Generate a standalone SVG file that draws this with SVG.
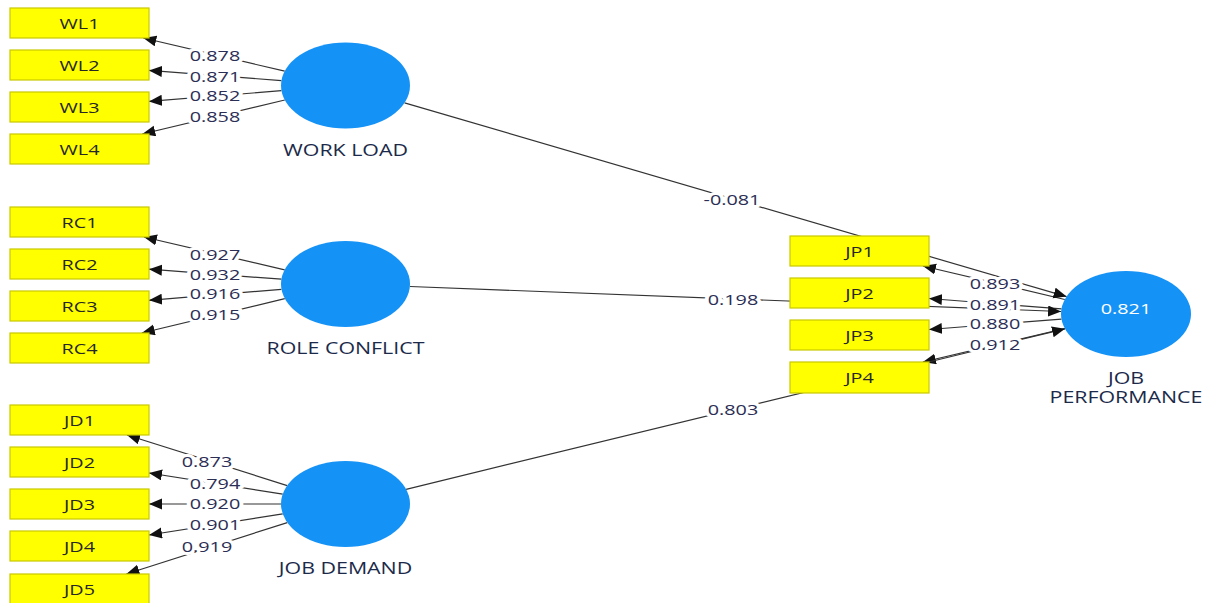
<svg xmlns="http://www.w3.org/2000/svg" width="1210" height="603" viewBox="0 0 1210 603">
  <defs>
    <marker id="arr" markerUnits="userSpaceOnUse" markerWidth="14" markerHeight="12" refX="13" refY="5.5" orient="auto">
      <path d="M0,0 L13,5.5 L0,11 z" fill="#111"/>
    </marker>
    <style>
      .ln { stroke: #333; stroke-width: 1.2; fill: none; }
      .ld { marker-end: url(#arr); }
      .ind rect { fill: #ffff00; stroke: #c9c900; stroke-width: 1.2; }
      .lv ellipse { fill: #1592f6; }
      text { font-family: "Open Sans", "Noto Sans", "DejaVu Sans", sans-serif; font-size: 15px; text-anchor: middle; }
      .ind text { fill: #262626; }
      .lv text.name { fill: #1b2a4a; font-size: 15.5px; }
      .lv text.r2 { fill: #ffffff; }
      .val { fill: #2b2e55; stroke: #ffffff; stroke-width: 6; stroke-linejoin: round; paint-order: stroke; }
    </style>
  </defs>
  <rect width="1210" height="603" fill="#ffffff"/>

  <!-- connectors: outer loadings and structural paths -->
  <g id="connectors">
    <!-- WORK LOAD loadings -->
    <line class="ln ld" x1="284.7" y1="71.2" x2="143.3" y2="38"/>
    <line class="ln ld" x1="281.4" y1="80.6" x2="149" y2="70.4"/>
    <line class="ln ld" x1="281.4" y1="90.7" x2="149" y2="101.4"/>
    <line class="ln ld" x1="284.8" y1="100" x2="142.3" y2="134"/>
    <!-- ROLE CONFLICT loadings -->
    <line class="ln ld" x1="284.7" y1="269.8" x2="143.9" y2="237"/>
    <line class="ln ld" x1="281.4" y1="279.2" x2="149" y2="269.2"/>
    <line class="ln ld" x1="281.4" y1="289.3" x2="149" y2="300.3"/>
    <line class="ln ld" x1="284.8" y1="298.6" x2="141.8" y2="333"/>
    <!-- JOB DEMAND loadings -->
    <line class="ln ld" x1="287.2" y1="485.6" x2="127" y2="435"/>
    <line class="ln ld" x1="282.7" y1="494.1" x2="149" y2="473"/>
    <line class="ln ld" x1="281" y1="504" x2="149" y2="504"/>
    <line class="ln ld" x1="282.7" y1="513.9" x2="149" y2="535"/>
    <line class="ln ld" x1="287.3" y1="522.6" x2="126.4" y2="574"/>
    <!-- JOB PERFORMANCE loadings -->
    <line class="ln ld" x1="1064.8" y1="299.5" x2="922.9" y2="266"/>
    <line class="ln ld" x1="1061.5" y1="308.9" x2="929" y2="298.5"/>
    <line class="ln ld" x1="1061.5" y1="319.1" x2="929" y2="329.5"/>
    <line class="ln ld" x1="1064.8" y1="328.5" x2="922.9" y2="362"/>
    <!-- structural paths -->
    <line class="ln ld" x1="404.6" y1="102.8" x2="1066.6" y2="296.6"/>
    <line class="ln ld" x1="409.9" y1="286.5" x2="1061.1" y2="311.5"/>
    <line class="ln ld" x1="406.1" y1="489.3" x2="1065" y2="328.8"/>

    <!-- coefficients -->
    <g class="val">
      <text transform="translate(215,61) scale(1.32,1)">0.878</text>
      <text transform="translate(215,82) scale(1.32,1)">0.871</text>
      <text transform="translate(215,100.5) scale(1.32,1)">0.852</text>
      <text transform="translate(215,121.5) scale(1.32,1)">0.858</text>

      <text transform="translate(215,259.5) scale(1.32,1)">0.927</text>
      <text transform="translate(215,280) scale(1.32,1)">0.932</text>
      <text transform="translate(215,298.5) scale(1.32,1)">0.916</text>
      <text transform="translate(215,319.5) scale(1.32,1)">0.915</text>

      <text transform="translate(207,467) scale(1.32,1)">0.873</text>
      <text transform="translate(215,488.5) scale(1.32,1)">0.794</text>
      <text transform="translate(215,508.5) scale(1.32,1)">0.920</text>
      <text transform="translate(215,529.5) scale(1.32,1)">0.901</text>
      <text transform="translate(207,552) scale(1.32,1)">0.919</text>

      <text transform="translate(995,288.5) scale(1.32,1)">0.893</text>
      <text transform="translate(995,310) scale(1.32,1)">0.891</text>
      <text transform="translate(995,328.5) scale(1.32,1)">0.880</text>
      <text transform="translate(995,349.5) scale(1.32,1)">0.912</text>

      <text transform="translate(732,205) scale(1.32,1)">-0.081</text>
      <text transform="translate(733,304.5) scale(1.32,1)">0.198</text>
      <text transform="translate(733,414.5) scale(1.32,1)">0.803</text>
    </g>
  </g>

  <!-- latent variables -->
  <g id="work-load" class="lv">
    <ellipse cx="345.5" cy="85.5" rx="64.5" ry="43"/>
    <text class="name" transform="translate(345.5,155.5) scale(1.38,1)">WORK LOAD</text>
  </g>
  <g id="role-conflict" class="lv">
    <ellipse cx="345.5" cy="284" rx="64.5" ry="43"/>
    <text class="name" transform="translate(345.5,353.5) scale(1.38,1)">ROLE CONFLICT</text>
  </g>
  <g id="job-demand" class="lv">
    <ellipse cx="345.5" cy="504" rx="64.5" ry="43"/>
    <text class="name" transform="translate(345.5,573.5) scale(1.38,1)">JOB DEMAND</text>
  </g>
  <g id="job-performance" class="lv">
    <ellipse cx="1126" cy="314" rx="65" ry="43"/>
    <text class="r2" transform="translate(1126,314) scale(1.32,1)">0.821</text>
    <text class="name" transform="translate(1126,383.5) scale(1.38,1)">JOB</text>
    <text class="name" transform="translate(1126,402.5) scale(1.38,1)">PERFORMANCE</text>
  </g>

  <!-- indicators -->
  <g id="WL1" class="ind"><rect x="10" y="8" width="139" height="30"/><text transform="translate(79.5,28.5) scale(1.32,1)">WL1</text></g>
  <g id="WL2" class="ind"><rect x="10" y="50" width="139" height="30"/><text transform="translate(79.5,70.5) scale(1.32,1)">WL2</text></g>
  <g id="WL3" class="ind"><rect x="10" y="92" width="139" height="30"/><text transform="translate(79.5,112.5) scale(1.32,1)">WL3</text></g>
  <g id="WL4" class="ind"><rect x="10" y="134" width="139" height="30"/><text transform="translate(79.5,154.5) scale(1.32,1)">WL4</text></g>

  <g id="RC1" class="ind"><rect x="10" y="207" width="139" height="30"/><text transform="translate(79.5,227.5) scale(1.32,1)">RC1</text></g>
  <g id="RC2" class="ind"><rect x="10" y="249" width="139" height="30"/><text transform="translate(79.5,269.5) scale(1.32,1)">RC2</text></g>
  <g id="RC3" class="ind"><rect x="10" y="291" width="139" height="30"/><text transform="translate(79.5,311.5) scale(1.32,1)">RC3</text></g>
  <g id="RC4" class="ind"><rect x="10" y="333" width="139" height="30"/><text transform="translate(79.5,353.5) scale(1.32,1)">RC4</text></g>

  <g id="JD1" class="ind"><rect x="10" y="405" width="139" height="30"/><text transform="translate(79.5,425.5) scale(1.32,1)">JD1</text></g>
  <g id="JD2" class="ind"><rect x="10" y="447" width="139" height="30"/><text transform="translate(79.5,467.5) scale(1.32,1)">JD2</text></g>
  <g id="JD3" class="ind"><rect x="10" y="489" width="139" height="30"/><text transform="translate(79.5,509.5) scale(1.32,1)">JD3</text></g>
  <g id="JD4" class="ind"><rect x="10" y="531" width="139" height="30"/><text transform="translate(79.5,551.5) scale(1.32,1)">JD4</text></g>
  <g id="JD5" class="ind"><rect x="10" y="574" width="139" height="30"/><text transform="translate(79.5,594.5) scale(1.32,1)">JD5</text></g>

  <g id="JP1" class="ind"><rect x="790" y="236" width="139" height="30"/><text transform="translate(859.5,256.5) scale(1.32,1)">JP1</text></g>
  <g id="JP2" class="ind"><rect x="790" y="278" width="139" height="30"/><text transform="translate(859.5,298.5) scale(1.32,1)">JP2</text></g>
  <g id="JP3" class="ind"><rect x="790" y="320" width="139" height="30"/><text transform="translate(859.5,340.5) scale(1.32,1)">JP3</text></g>
  <g id="JP4" class="ind"><rect x="790" y="362" width="139" height="31"/><text transform="translate(859.5,383) scale(1.32,1)">JP4</text></g>
</svg>
